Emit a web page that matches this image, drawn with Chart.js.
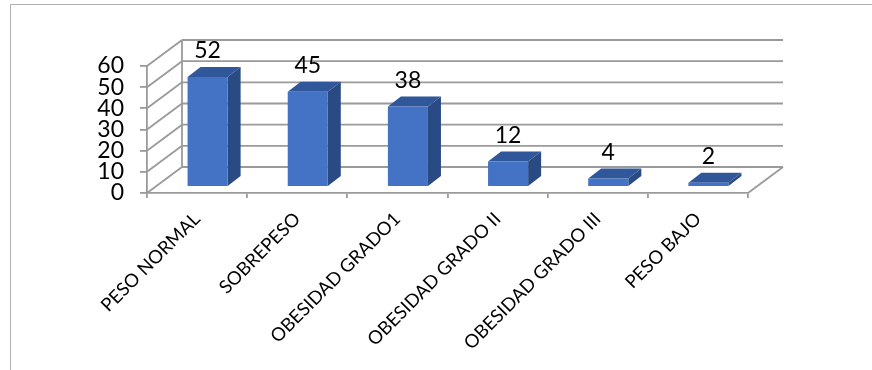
<!DOCTYPE html>
<html lang="es">
<head>
    <meta charset="UTF-8">
    <title>Estado nutricional</title>
    <script src="https://cdn.jsdelivr.net/npm/chart.js"></script>
    <style>
        html, body { margin: 0; padding: 0; background: #fff; overflow: hidden; }
        canvas { display: block; }
    </style>
</head>
<body>
<canvas id="imcChart" width="872" height="370"></canvas>
<script>
    // Data
    const categorias = ['PESO NORMAL', 'SOBREPESO', 'OBESIDAD GRADO1', 'OBESIDAD GRADO II', 'OBESIDAD GRADO III', 'PESO BAJO'];
    const pacientes = [52, 45, 38, 12, 4, 2];
    const escalaY = [0, 10, 20, 30, 40, 50, 60];

    // 3D look: wall depth and where the bars sit inside it
    const WALL = { x: 35, y: -26 };
    const BAR_SHIFT = { x: 10.5, y: -6 };
    const BAR_DEPTH = { x: 13, y: -10 };
    const GRID = '#9a9a9a';

    const FRONT = '#4472c4';
    const TOP = '#30579a';
    const SIDE = '#2a4a83';

    function line(ctx, x1, y1, x2, y2) {
        ctx.beginPath();
        ctx.moveTo(x1, y1);
        ctx.lineTo(x2, y2);
        ctx.stroke();
    }

    function poly(ctx, pts, color) {
        ctx.beginPath();
        ctx.moveTo(pts[0][0], pts[0][1]);
        for (let i = 1; i < pts.length; i++) ctx.lineTo(pts[i][0], pts[i][1]);
        ctx.closePath();
        ctx.fillStyle = color;
        ctx.fill();
    }

    const walls3d = {
        id: 'walls3d',
        beforeDraw(chart) {
            const ctx = chart.ctx;
            ctx.save();
            ctx.strokeStyle = '#b0b0b0';
            ctx.lineWidth = 1;
            ctx.strokeRect(10.5, 4.5, chart.width + 20, chart.height + 20);
            ctx.restore();
        },
        beforeDatasetsDraw(chart) {
            const ctx = chart.ctx;
            const area = chart.chartArea;
            const y = chart.scales.y;
            const left = area.left, right = area.right;
            ctx.save();
            ctx.strokeStyle = GRID;
            ctx.lineWidth = 1.8;
            escalaY.forEach(v => {
                const py = y.getPixelForValue(v);
                // side wall diagonal + back wall line
                line(ctx, left, py, left + WALL.x, py + WALL.y);
                line(ctx, left + WALL.x, py + WALL.y, right + WALL.x, py + WALL.y);
            });
            const top = y.getPixelForValue(60), base = y.getPixelForValue(0);
            line(ctx, left + WALL.x, top + WALL.y, left + WALL.x, base + WALL.y);
            // right edge of the floor
            line(ctx, right, base, right + WALL.x, base + WALL.y);
            ctx.restore();
        },
        afterDatasetsDraw(chart) {
            const ctx = chart.ctx;
            const meta = chart.getDatasetMeta(0);
            ctx.save();
            meta.data.forEach((bar, i) => {
                const half = bar.width / 2;
                const x0 = bar.x - half + BAR_SHIFT.x;
                const x1 = bar.x + half + BAR_SHIFT.x;
                const yTop = bar.y + BAR_SHIFT.y;
                const yBot = bar.base + BAR_SHIFT.y;
                const dx = BAR_DEPTH.x, dy = BAR_DEPTH.y;
                poly(ctx, [[x1, yTop], [x1 + dx, yTop + dy], [x1 + dx, yBot + dy], [x1, yBot]], SIDE);
                poly(ctx, [[x0, yTop], [x1, yTop], [x1 + dx, yTop + dy], [x0 + dx, yTop + dy]], TOP);
                poly(ctx, [[x0, yTop], [x1, yTop], [x1, yBot], [x0, yBot]], FRONT);

                // value label
                ctx.fillStyle = '#000';
                ctx.font = '23px Lato';
                ctx.textAlign = 'center';
                ctx.textBaseline = 'alphabetic';
                ctx.fillText(String(pacientes[i]), bar.x + BAR_SHIFT.x, yTop + dy - 9);
            });
            ctx.restore();
        }
    };

    new Chart(document.getElementById('imcChart'), {
        type: 'bar',
        data: {
            labels: categorias,
            datasets: [{
                data: pacientes,
                backgroundColor: 'rgba(0,0,0,0)',
                borderWidth: 0,
                categoryPercentage: 1,
                barPercentage: 0.4
            }]
        },
        options: {
            responsive: false,
            animation: false,
            layout: { padding: { left: 0, top: 66, right: 124, bottom: 0 } },
            plugins: {
                legend: { display: false },
                tooltip: { enabled: false }
            },
            scales: {
                y: {
                    min: 0,
                    max: 60,
                    afterFit(scale) { scale.width = 147; },
                    afterBuildTicks(scale) { scale.ticks = escalaY.map(v => ({ value: v })); },
                    ticks: {
                        autoSkip: false,
                        font: { family: 'Lato', size: 23 },
                        color: '#000',
                        padding: 16
                    },
                    grid: { drawOnChartArea: false, tickLength: 7, color: GRID, lineWidth: 1.8 },
                    border: { color: GRID, width: 1.8 }
                },
                x: {
                    afterFit(scale) { scale.height = 177; },
                    ticks: {
                        autoSkip: false,
                        minRotation: 45,
                        maxRotation: 45,
                        font: { family: 'Lato', size: 18.5 },
                        color: '#000',
                        padding: 10
                    },
                    grid: { offset: true, drawOnChartArea: false, tickLength: 5, color: GRID, lineWidth: 1.8 },
                    border: { color: GRID, width: 1.8 }
                }
            }
        },
        plugins: [walls3d]
    });
</script>
</body>
</html>
